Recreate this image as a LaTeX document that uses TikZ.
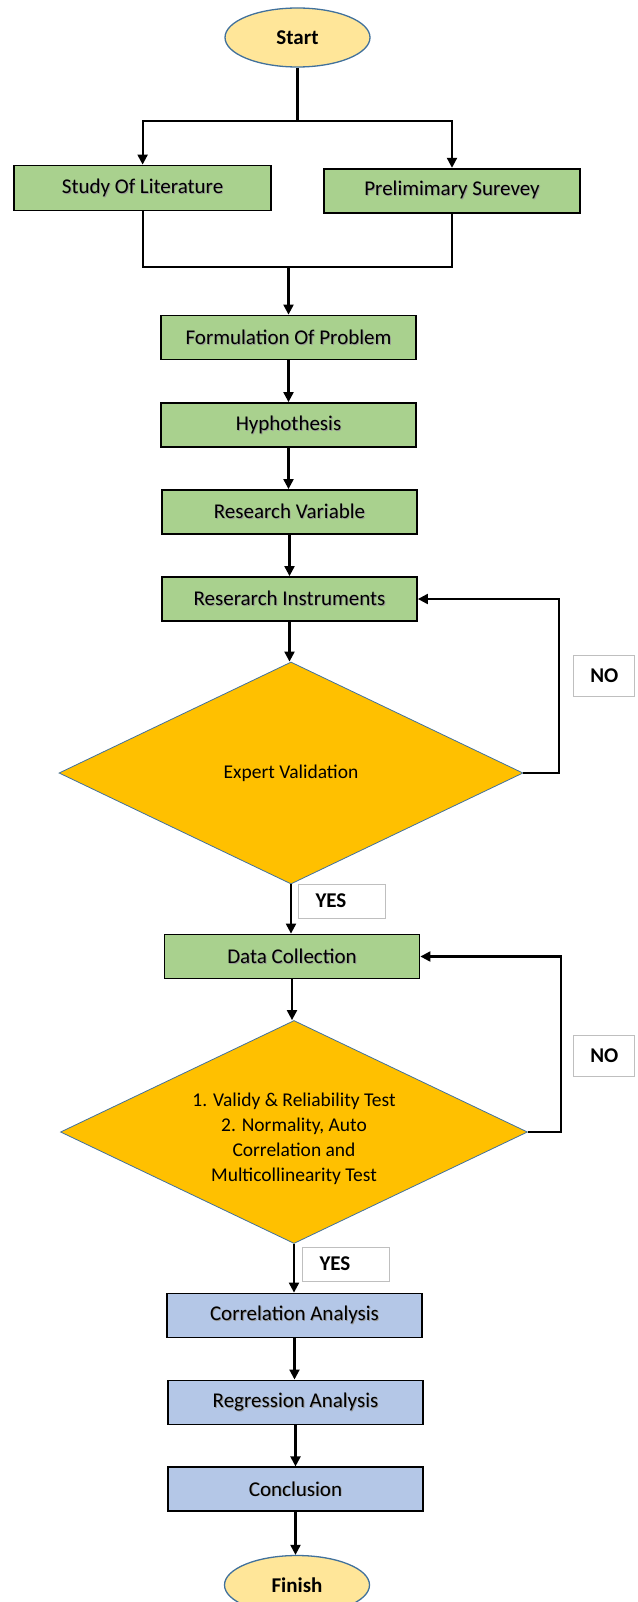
\documentclass[tikz,border=0pt]{standalone}
\usepackage{fontspec}
\setmainfont{Carlito}
\usetikzlibrary{shapes.geometric,arrows.meta}
\definecolor{boxgreen}{HTML}{A9D18E}
\definecolor{boxblue}{HTML}{B4C7E7}
\definecolor{dgold}{HTML}{FFC000}
\definecolor{ellfill}{HTML}{FFE699}
\definecolor{edgeblue}{HTML}{41719C}
\definecolor{lblgray}{HTML}{BFBFBF}
\newcommand\shtxt[1]{\makebox[0pt][l]{\hspace{0.9pt}\raisebox{-0.9pt}{\color{black!40}#1}}#1}
\begin{document}
\begin{tikzpicture}[x=1pt,y=-1pt,
  proc/.style={rectangle,draw=black,line width=1.8pt,minimum width=255pt,minimum height=44pt,inner sep=0pt,font=\fontsize{21}{25}\selectfont},
  greenbox/.style={proc,fill=boxgreen},
  bluebox/.style={proc,fill=boxblue},
  term/.style={ellipse,draw=edgeblue,line width=1.3pt,fill=ellfill,minimum width=145pt,minimum height=59pt,inner sep=0pt,font=\fontsize{21}{25}\selectfont\bfseries},
  decision/.style={diamond,aspect=2.1,draw=edgeblue,line width=0.8pt,fill=dgold,inner sep=0pt,font=\fontsize{19.5}{25}\selectfont,align=center},
  lbl/.style={rectangle,draw=lblgray,line width=1pt,fill=white,font=\fontsize{21}{25}\selectfont\bfseries},
  conn/.style={line width=2.1pt,black},
  arr/.style={conn,-{Triangle[length=10pt,width=10pt]}}
]
\useasboundingbox (0,0) rectangle (637,1602);

% nodes
\node[term] (start) at (297.5,37.5) {Start};
\node[greenbox,minimum width=257pt,minimum height=45pt] (lit) at (142.6,188) {\shtxt{Study Of Literature}};
\node[greenbox,minimum width=256pt] (pre) at (452,190.7) {\shtxt{Prelimimary Surevey}};
\node[greenbox] (form) at (288.5,337.5) {\shtxt{Formulation Of Problem}};
\node[greenbox] (hyp) at (288.5,425) {\shtxt{Hyphothesis}};
\node[greenbox] (var) at (289.5,512) {\shtxt{Research Variable}};
\node[greenbox] (inst) at (289.5,599) {\shtxt{Reserarch Instruments}};
\node[decision,minimum width=464pt,minimum height=222pt] (ev) at (291,773) {Expert Validation};
\node[greenbox] (dc) at (292,956.5) {\shtxt{Data Collection}};
\node[decision,minimum width=467pt,minimum height=223pt] (dd) at (294,1132)
  {\raisebox{-12pt}[0pt][0pt]{\begin{tabular}{@{}c@{}}1. Validy \& Reliability Test\\2. Normality, Auto\\Correlation and\\Multicollinearity Test\end{tabular}}};
\node[bluebox] (corr) at (294.5,1315.5) {\shtxt{Correlation Analysis}};
\node[bluebox] (reg) at (295.5,1402.4) {\shtxt{Regression Analysis}};
\node[bluebox] (conc) at (295.5,1489.3) {\shtxt{Conclusion}};
\node[term] (fin) at (297,1585) {Finish};

% labels
\node[lbl,minimum width=61pt,minimum height=41pt,inner sep=0pt] (no1) at (604.3,675.5) {NO};
\node[lbl,minimum width=61pt,minimum height=41pt,inner sep=0pt] (no2) at (604.3,1055.5) {NO};
\node[lbl,text width=53pt,inner xsep=17pt,inner ysep=0pt,minimum height=34pt,align=left] (yes1) at (342,901) {YES};
\node[lbl,text width=53pt,inner xsep=17pt,inner ysep=0pt,minimum height=34pt,align=left] (yes2) at (346,1264) {YES};

% connectors
\coordinate (split) at (297.5,120.7);
\draw[conn] (start.south) -- (split);
\draw[arr] (split) -| (lit.north);
\draw[arr] (split) -| (pre.north);
\coordinate (join) at (288.5,267);
\draw[conn] (lit.south) |- (join);
\draw[conn] (pre.south) |- (join);
\draw[arr] (join) -- (form.north);
\draw[arr] (form.south) -- (hyp.north);
\draw[arr] (hyp.south) -- (hyp.south |- var.north);
\draw[arr] (var.south) -- (inst.north);
\draw[arr] (inst.south) -- (inst.south |- ev.north);
\draw[arr] (ev.east) -- ++(35.5,0) |- (inst.east);
\draw[arr] (ev.south) -- (ev.south |- dc.north);
\draw[arr] (dc.south) -- (dc.south |- dd.north);
\draw[arr] (dd.east) -- ++(33,0) |- (dc.east);
\draw[arr] (dd.south) -- (dd.south |- corr.north);
\draw[arr] (corr.south) -- (corr.south |- reg.north);
\draw[arr] (reg.south) -- (conc.north);
\draw[arr] (conc.south) -- (conc.south |- fin.north);
\end{tikzpicture}
\end{document}
